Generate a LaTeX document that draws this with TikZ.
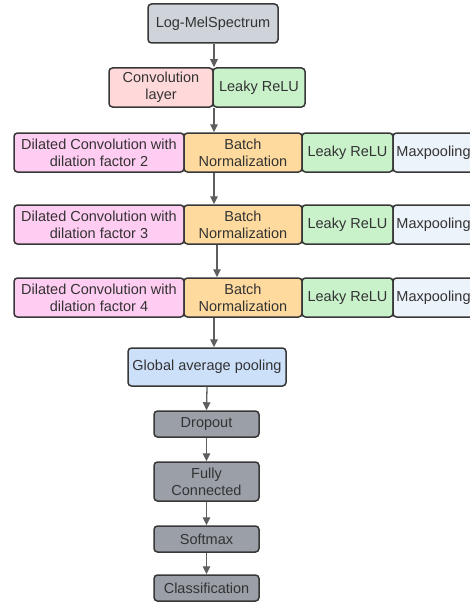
\documentclass[tikz,border=0pt]{standalone}
\usepackage{fontspec}
\setmainfont{Liberation Sans}
\usetikzlibrary{arrows.meta}
\definecolor{bordc}{HTML}{383838}
\definecolor{txtc}{HTML}{333333}
\definecolor{arrc}{HTML}{5E5E5E}
\definecolor{inputc}{HTML}{CED4DA}
\definecolor{convc}{HTML}{FFD9D9}
\definecolor{reluc}{HTML}{C9F2CB}
\definecolor{dilc}{HTML}{FFCCF2}
\definecolor{bnc}{HTML}{FFDA9E}
\definecolor{mpc}{HTML}{EDF3FB}
\definecolor{gapc}{HTML}{CCE0FA}
\definecolor{grayc}{HTML}{9A9FA8}
\begin{document}
\begin{tikzpicture}[x=1pt,y=-1pt,
  box/.style={draw=bordc, line width=1.5pt, rounded corners=3.5pt, text=txtc,
    font=\fontsize{14.5}{17}\selectfont, align=center, inner sep=0pt,
    minimum height=39pt},
  short/.style={minimum height=26pt},
  arr/.style={draw=arrc, line width=1.3pt, -{Triangle[width=7.5pt,length=8pt]}}]
\useasboundingbox (0,0) rectangle (470,602);
\clip (0,0) rectangle (470,602);
% top
\node[box, fill=inputc, minimum width=130pt] (log) at (213,23.5) {Log-MelSpectrum};
\node[box, fill=convc, minimum width=104pt] (conv) at (161,87.5) {Convolution\\layer};
\node[box, fill=reluc, minimum width=92pt] (relu0) at (259,87.5) {Leaky ReLU};
% row 1
\node[box, fill=dilc, minimum width=170pt] (d1) at (99,152.5) {Dilated Convolution with\\dilation factor 2};
\node[box, fill=bnc, minimum width=118pt] (b1) at (243,152.5) {Batch\\Normalization};
\node[box, fill=reluc, minimum width=91pt] (l1) at (347.5,152.5) {Leaky ReLU};
\node[box, fill=mpc, minimum width=81pt] (m1) at (433.5,152.5) {Maxpooling};
% row 2
\node[box, fill=dilc, minimum width=170pt] (d2) at (99,224.5) {Dilated Convolution with\\dilation factor 3};
\node[box, fill=bnc, minimum width=118pt] (b2) at (243,224.5) {Batch\\Normalization};
\node[box, fill=reluc, minimum width=91pt] (l2) at (347.5,224.5) {Leaky ReLU};
\node[box, fill=mpc, minimum width=81pt] (m2) at (433.5,224.5) {Maxpooling};
% row 3
\node[box, fill=dilc, minimum width=170pt] (d3) at (99,297.5) {Dilated Convolution with\\dilation factor 4};
\node[box, fill=bnc, minimum width=118pt] (b3) at (243,297.5) {Batch\\Normalization};
\node[box, fill=reluc, minimum width=91pt] (l3) at (347.5,297.5) {Leaky ReLU};
\node[box, fill=mpc, minimum width=81pt] (m3) at (433.5,297.5) {Maxpooling};
% bottom
\node[box, fill=gapc, minimum width=158pt, minimum height=38pt] (gap) at (207,367) {Global average pooling};
\node[box, short, fill=grayc, minimum width=105pt] (drop) at (206.5,424) {Dropout};
\node[box, fill=grayc, minimum width=105pt] (fc) at (206.5,481.5) {Fully\\Connected};
\node[box, short, fill=grayc, minimum width=105pt] (soft) at (206.5,539) {Softmax};
\node[box, short, fill=grayc, minimum width=105pt] (cls) at (206.5,588) {Classification};
% arrows
\coordinate (a0) at (214,0);
\coordinate (a2) at (217,0);
\draw[arr] (a0 |- log.south) -- (a0 |- conv.north);
\draw[arr] (a0 |- conv.south) -- (a0 |- b1.north);
\draw[arr] (a0 |- b1.south) -- (a0 |- b2.north);
\draw[arr] (a2 |- b2.south) -- (a2 |- b3.north);
\draw[arr] (a0 |- b3.south) -- (a0 |- gap.north);
\draw[arr] (gap.south) -- (drop.north);
\draw[arr] (drop.south) -- (fc.north);
\draw[arr] (fc.south) -- (soft.north);
\draw[arr] (soft.south) -- (cls.north);
\end{tikzpicture}
\end{document}
